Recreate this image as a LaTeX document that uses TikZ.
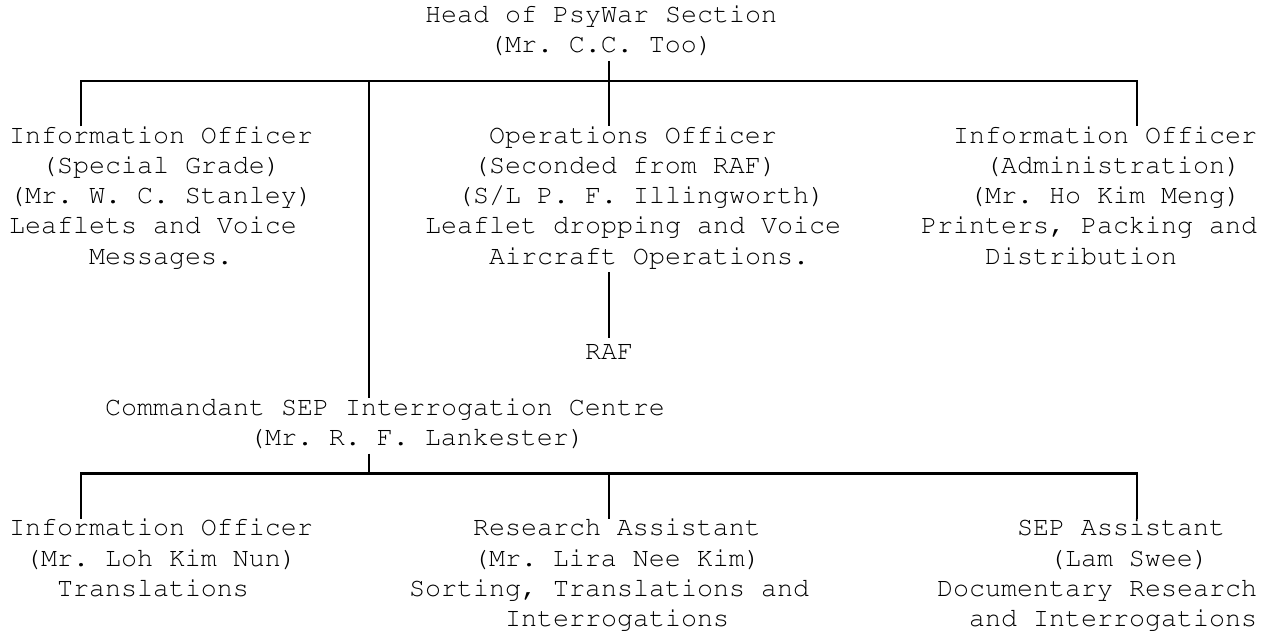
\documentclass[tikz,border=0pt]{standalone}
\usepackage[T1,TU]{fontenc}
\usepackage{tikz}
\newlength{\charw}
\setlength{\charw}{8pt}
\newcommand{\mono}{\fontencoding{T1}\fontfamily{pcr}\fontsize{13.333pt}{15.1pt}\selectfont\frenchspacing}
\newcommand{\rowstrut}{\rule[-4.1pt]{0pt}{15.1pt}}
\newcommand{\pad}[1]{\makebox[#1\charw]{}}
\tikzset{orgtext/.style = {font=\mono, align=center, anchor=north,
                           inner sep=0pt, outer sep=0pt,
                           execute at begin node=\rowstrut,
                           execute at end node=\rowstrut},
         orgline/.style = {line width=1.1pt}}

\begin{document}
\begin{tikzpicture}[x=8pt, y=-15.1pt]
    \useasboundingbox (-0.5625, -0.182) rectangle (78.6875, 20.877);

    \node [orgtext] (head) at (37, 0) {Head of PsyWar Section\\(Mr. C.C. Too)};
    \node [orgtext] (stanley) at (9.5, 4) {Information Officer\\(Special Grade)\\(Mr. W. C. Stanley)\\Leaflets and Voice\pad{1}\\Messages.};
    \node [orgtext] (illingworth) at (39, 4) {Operations Officer\\(Seconded from RAF)\pad{1}\\\pad{1}(S/L P. F. Illingworth)\\Leaflet dropping and Voice\\\pad{2}Aircraft Operations.};
    \node [orgtext] (hokim) at (68.5, 4) {Information Officer\\\pad{1}(Administration)\\(Mr. Ho Kim Meng)\\Printers, Packing and\pad{2}\\Distribution\pad{3}};
    \node [orgtext] (raf) at (37.5, 11) {RAF};
    \node [orgtext] (lankester) at (23.5, 13) {Commandant SEP Interrogation Centre\\\pad{4}(Mr. R. F. Lankester)};
    \node [orgtext] (lohkim) at (9.5, 17) {Information Officer\\(Mr. Loh Kim Nun)\\Translations\pad{1}};
    \node [orgtext] (liranee) at (38, 17) {Research Assistant\\(Mr. Lira Nee Kim)\\Sorting, Translations and\pad{1}\\Interrogations};
    \node [orgtext] (lamswee) at (69, 17) {\pad{1}SEP Assistant\\\pad{2}(Lam Swee)\\Documentary Research\pad{2}\\and Interrogations};

    \coordinate (topleft) at (4.5, 2.5);
    \coordinate (topmid) at (22.5, 2.5);
    \coordinate (topright) at (70.5, 2.5);
    \coordinate (botleft) at (4.5, 15.5);
    \coordinate (botmid) at (22.5, 15.5);
    \coordinate (botright) at (70.5, 15.5);

    \draw [orgline] (topleft |- stanley.north) -- (topleft) -- (topright) -- (topright |- hokim.north);
    \draw [orgline] (head.south -| raf) -- (illingworth.north -| raf);
    \draw [orgline] (topmid) -- (topmid |- lankester.north);
    \draw [orgline] (illingworth.south -| raf) -- (raf.north);

    \draw [orgline] (botleft |- lohkim.north) -- (botleft) -- (botright) -- (botright |- lamswee.north);
    \draw [orgline] (lankester.south -| botmid) -- (botmid);
    \draw [orgline] (botleft -| raf) -- (liranee.north -| raf);
\end{tikzpicture}
\end{document}
